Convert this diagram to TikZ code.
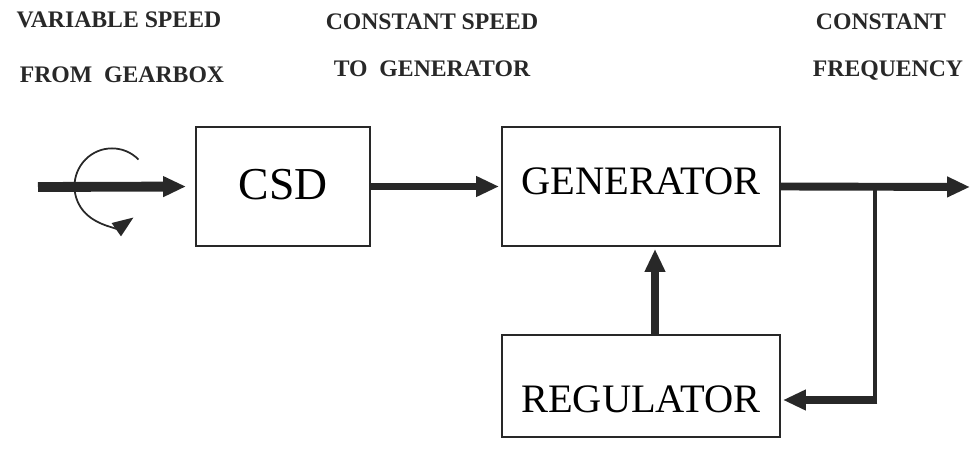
\documentclass[tikz,border=0pt]{standalone}
\usepackage{fontspec}
\setmainfont{Liberation Serif}
\usetikzlibrary{arrows.meta}

\definecolor{ink}{RGB}{40,40,40}

\tikzset{
  block/.style={draw=ink, line width=1.4pt, inner sep=0pt, align=center, font=\fontsize{23}{26}\selectfont},
  flow/.style={ink, line width=4.5pt, -{Triangle[length=13pt,width=11pt]}},
  caption/.style={anchor=base, font=\fontsize{13.5}{16}\selectfont\bfseries, text=ink}
}

\begin{document}
\begin{tikzpicture}[x=0.02cm,y=-0.02cm]

\useasboundingbox (0,0) rectangle (970,459);

\node[caption] (lin1) at (119,28) {VARIABLE SPEED};
\node[caption] (lin2) at (122,83) {FROM\ \ GEARBOX};
\node[caption] (lmid1) at (432,30) {CONSTANT SPEED};
\node[caption] (lmid2) at (432,77) {TO\ \ GENERATOR};
\node[caption] (lout1) at (881,30) {CONSTANT};
\node[caption] (lout2) at (888,77) {FREQUENCY};

\node[block, minimum width=3.48cm, text height=1.46cm, text depth=0.92cm, font=\fontsize{26}{30}\selectfont] (csd) at (283,186.5) {CSD};
\node[block, minimum width=5.56cm, text height=1.36cm, text depth=1.02cm] (gen) at (641,186.5) {GENERATOR};
\node[block, minimum width=5.56cm, text height=1.56cm, text depth=0.48cm] (reg) at (641,386) {REGULATOR};

\coordinate (in) at (38,187);
\coordinate (out) at (970,187);
\coordinate (tap) at (875,187);
\coordinate (bend) at (875,400);
\coordinate (spin) at (112,186);

\draw[flow, line width=5.6pt, shorten >=5pt] (in) -- (csd.west);
\draw[flow, shorten >=1pt] (csd.east) -- (gen.west);
\draw[flow] (gen.east) -- (out);

\draw[ink, line width=2.6pt] (tap) -- (bend);
\draw[flow, shorten >=1pt] ([xshift=1.3pt]bend) -- (bend -| reg.east);

\draw[flow, line width=4pt, shorten >=1pt] ([xshift=0.28cm]reg.north) -- ([xshift=0.28cm]gen.south);

\draw[ink, line width=1pt, -{Triangle[length=12pt,width=9pt]}] ([shift={(0.53cm,0.53cm)}]spin) arc[start angle=45, end angle=305, x radius=0.75cm, y radius=0.76cm];

\end{tikzpicture}
\end{document}
